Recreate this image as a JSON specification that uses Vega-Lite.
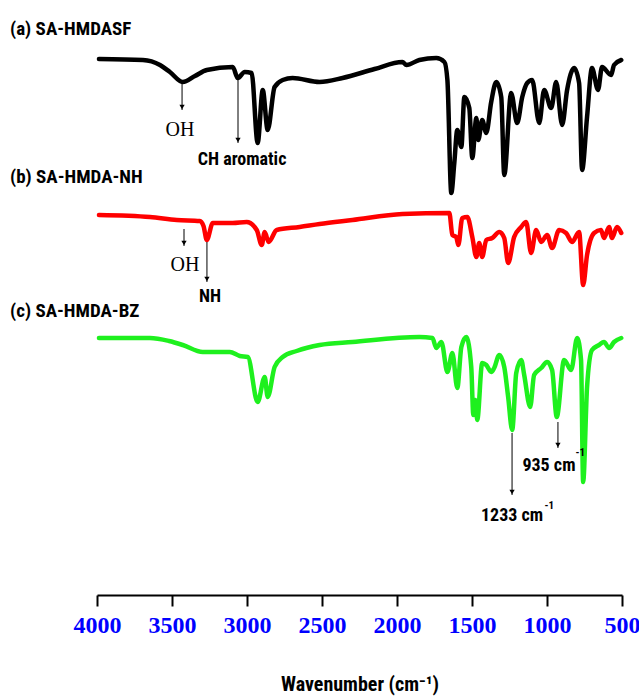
{
  "$schema": "https://vega.github.io/schema/vega-lite/v6.json",
  "width": 525,
  "height": 540,
  "autosize": {"type": "none"},
  "padding": {"left": 97, "top": 55, "right": 17, "bottom": 105},
  "background": "white",
  "config": {"view": {"stroke": null}},
  "datasets": {
    "spectra": [
      {"s": "a", "w": 3987, "v": 539}, {"s": "a", "w": 3694, "v": 538}, {"s": "a", "w": 3580, "v": 533}, {"s": "a", "w": 3514, "v": 526}, {"s": "a", "w": 3428, "v": 516}, {"s": "a", "w": 3347, "v": 522}, {"s": "a", "w": 3268, "v": 528}, {"s": "a", "w": 3095, "v": 531}, {"s": "a", "w": 3062, "v": 520}, {"s": "a", "w": 3015, "v": 526}, {"s": "a", "w": 2969, "v": 525}, {"s": "a", "w": 2929, "v": 455}, {"s": "a", "w": 2895, "v": 508}, {"s": "a", "w": 2862, "v": 468}, {"s": "a", "w": 2816, "v": 511}, {"s": "a", "w": 2762, "v": 518}, {"s": "a", "w": 2696, "v": 520}, {"s": "a", "w": 2516, "v": 516}, {"s": "a", "w": 2363, "v": 520}, {"s": "a", "w": 2150, "v": 529}, {"s": "a", "w": 1964, "v": 536}, {"s": "a", "w": 1937, "v": 533}, {"s": "a", "w": 1851, "v": 538}, {"s": "a", "w": 1738, "v": 540}, {"s": "a", "w": 1684, "v": 536}, {"s": "a", "w": 1664, "v": 518}, {"s": "a", "w": 1638, "v": 405}, {"s": "a", "w": 1618, "v": 435}, {"s": "a", "w": 1598, "v": 468}, {"s": "a", "w": 1571, "v": 451}, {"s": "a", "w": 1551, "v": 501}, {"s": "a", "w": 1518, "v": 490}, {"s": "a", "w": 1498, "v": 440}, {"s": "a", "w": 1471, "v": 480}, {"s": "a", "w": 1458, "v": 458}, {"s": "a", "w": 1432, "v": 478}, {"s": "a", "w": 1405, "v": 465}, {"s": "a", "w": 1372, "v": 496}, {"s": "a", "w": 1338, "v": 516}, {"s": "a", "w": 1305, "v": 501}, {"s": "a", "w": 1285, "v": 423}, {"s": "a", "w": 1239, "v": 505}, {"s": "a", "w": 1199, "v": 475}, {"s": "a", "w": 1165, "v": 501}, {"s": "a", "w": 1132, "v": 515}, {"s": "a", "w": 1099, "v": 518}, {"s": "a", "w": 1052, "v": 475}, {"s": "a", "w": 1019, "v": 508}, {"s": "a", "w": 972, "v": 490}, {"s": "a", "w": 939, "v": 516}, {"s": "a", "w": 899, "v": 473}, {"s": "a", "w": 866, "v": 508}, {"s": "a", "w": 819, "v": 530}, {"s": "a", "w": 786, "v": 515}, {"s": "a", "w": 766, "v": 428}, {"s": "a", "w": 733, "v": 481}, {"s": "a", "w": 700, "v": 530}, {"s": "a", "w": 660, "v": 508}, {"s": "a", "w": 633, "v": 531}, {"s": "a", "w": 573, "v": 523}, {"s": "a", "w": 553, "v": 533}, {"s": "a", "w": 505, "v": 538},

      {"s": "b", "w": 3987, "v": 383}, {"s": "b", "w": 3647, "v": 381}, {"s": "b", "w": 3468, "v": 378}, {"s": "b", "w": 3315, "v": 377}, {"s": "b", "w": 3290, "v": 372}, {"s": "b", "w": 3268, "v": 358}, {"s": "b", "w": 3228, "v": 375}, {"s": "b", "w": 3095, "v": 375}, {"s": "b", "w": 3002, "v": 376}, {"s": "b", "w": 2935, "v": 368}, {"s": "b", "w": 2902, "v": 353}, {"s": "b", "w": 2882, "v": 366}, {"s": "b", "w": 2856, "v": 356}, {"s": "b", "w": 2802, "v": 368}, {"s": "b", "w": 2649, "v": 371}, {"s": "b", "w": 2516, "v": 374}, {"s": "b", "w": 2297, "v": 378}, {"s": "b", "w": 1964, "v": 384}, {"s": "b", "w": 1651, "v": 385}, {"s": "b", "w": 1631, "v": 363}, {"s": "b", "w": 1605, "v": 361}, {"s": "b", "w": 1591, "v": 353}, {"s": "b", "w": 1565, "v": 380}, {"s": "b", "w": 1531, "v": 381}, {"s": "b", "w": 1498, "v": 361}, {"s": "b", "w": 1471, "v": 341}, {"s": "b", "w": 1452, "v": 355}, {"s": "b", "w": 1432, "v": 341}, {"s": "b", "w": 1405, "v": 358}, {"s": "b", "w": 1365, "v": 360}, {"s": "b", "w": 1318, "v": 366}, {"s": "b", "w": 1285, "v": 360}, {"s": "b", "w": 1259, "v": 335}, {"s": "b", "w": 1219, "v": 361}, {"s": "b", "w": 1172, "v": 371}, {"s": "b", "w": 1139, "v": 376}, {"s": "b", "w": 1106, "v": 345}, {"s": "b", "w": 1072, "v": 368}, {"s": "b", "w": 1039, "v": 356}, {"s": "b", "w": 999, "v": 363}, {"s": "b", "w": 966, "v": 350}, {"s": "b", "w": 919, "v": 368}, {"s": "b", "w": 873, "v": 365}, {"s": "b", "w": 833, "v": 356}, {"s": "b", "w": 786, "v": 366}, {"s": "b", "w": 759, "v": 313}, {"s": "b", "w": 733, "v": 343}, {"s": "b", "w": 686, "v": 365}, {"s": "b", "w": 640, "v": 368}, {"s": "b", "w": 620, "v": 360}, {"s": "b", "w": 586, "v": 371}, {"s": "b", "w": 567, "v": 360}, {"s": "b", "w": 533, "v": 371}, {"s": "b", "w": 505, "v": 365},

      {"s": "c", "w": 3987, "v": 260}, {"s": "c", "w": 3647, "v": 260}, {"s": "c", "w": 3520, "v": 257}, {"s": "c", "w": 3428, "v": 253}, {"s": "c", "w": 3295, "v": 246}, {"s": "c", "w": 3115, "v": 246}, {"s": "c", "w": 3048, "v": 242}, {"s": "c", "w": 2995, "v": 241}, {"s": "c", "w": 2929, "v": 196}, {"s": "c", "w": 2882, "v": 221}, {"s": "c", "w": 2862, "v": 201}, {"s": "c", "w": 2816, "v": 231}, {"s": "c", "w": 2762, "v": 241}, {"s": "c", "w": 2669, "v": 247}, {"s": "c", "w": 2516, "v": 253}, {"s": "c", "w": 2297, "v": 256}, {"s": "c", "w": 1851, "v": 261}, {"s": "c", "w": 1764, "v": 260}, {"s": "c", "w": 1738, "v": 250}, {"s": "c", "w": 1704, "v": 256}, {"s": "c", "w": 1664, "v": 226}, {"s": "c", "w": 1631, "v": 245}, {"s": "c", "w": 1598, "v": 210}, {"s": "c", "w": 1571, "v": 251}, {"s": "c", "w": 1538, "v": 261}, {"s": "c", "w": 1505, "v": 231}, {"s": "c", "w": 1491, "v": 183}, {"s": "c", "w": 1478, "v": 198}, {"s": "c", "w": 1465, "v": 178}, {"s": "c", "w": 1432, "v": 235}, {"s": "c", "w": 1405, "v": 233}, {"s": "c", "w": 1372, "v": 226}, {"s": "c", "w": 1352, "v": 230}, {"s": "c", "w": 1318, "v": 243}, {"s": "c", "w": 1285, "v": 231}, {"s": "c", "w": 1259, "v": 201}, {"s": "c", "w": 1232, "v": 168}, {"s": "c", "w": 1205, "v": 225}, {"s": "c", "w": 1172, "v": 238}, {"s": "c", "w": 1152, "v": 223}, {"s": "c", "w": 1112, "v": 191}, {"s": "c", "w": 1086, "v": 223}, {"s": "c", "w": 1039, "v": 230}, {"s": "c", "w": 999, "v": 236}, {"s": "c", "w": 966, "v": 228}, {"s": "c", "w": 935, "v": 181}, {"s": "c", "w": 886, "v": 238}, {"s": "c", "w": 839, "v": 228}, {"s": "c", "w": 799, "v": 260}, {"s": "c", "w": 773, "v": 238}, {"s": "c", "w": 759, "v": 116}, {"s": "c", "w": 733, "v": 211}, {"s": "c", "w": 700, "v": 248}, {"s": "c", "w": 653, "v": 253}, {"s": "c", "w": 620, "v": 256}, {"s": "c", "w": 586, "v": 250}, {"s": "c", "w": 553, "v": 256}, {"s": "c", "w": 505, "v": 260}
    ],
    "arrows": [
      {"w": 3433, "v1": 515, "v2": 488},
      {"w": 3060, "v1": 518, "v2": 455},
      {"w": 3420, "v1": 369, "v2": 352},
      {"w": 3267, "v1": 356, "v2": 316},
      {"w": 1233, "v1": 165, "v2": 103},
      {"w": 927, "v1": 176, "v2": 150}
    ],
    "titles": [
      {"w": 4580, "v": 569, "t": "(a) SA-HMDASF"},
      {"w": 4580, "v": 421, "t": "(b) SA-HMDA-NH"},
      {"w": 4580, "v": 287, "t": "(c) SA-HMDA-BZ"}
    ],
    "serifLabels": [
      {"w": 3447, "v": 468, "t": "OH"},
      {"w": 3413, "v": 333, "t": "OH"}
    ],
    "sansLabels": [
      {"w": 3033, "v": 438, "t": "CH aromatic"},
      {"w": 3247, "v": 301, "t": "NH"},
      {"w": 1233, "v": 82, "t": "1233 cm"},
      {"w": 987, "v": 132, "t": "935 cm"}
    ],
    "sups": [
      {"w": 985, "v": 92, "t": "-1"},
      {"w": 778, "v": 145, "t": "-1"}
    ]
  },
  "layer": [
    {
      "data": {"name": "spectra"},
      "mark": {"type": "line", "strokeWidth": 4.5, "strokeJoin": "round", "strokeCap": "round", "interpolate": "monotone"},
      "encoding": {
        "x": {
          "field": "w", "type": "quantitative",
          "scale": {"domain": [4000, 500], "nice": false, "zero": false},
          "axis": {
            "values": [4000, 3750, 3500, 3250, 3000, 2750, 2500, 2250, 2000, 1750, 1500, 1250, 1000, 750, 500],
            "format": "d",
            "labelExpr": "datum.value % 500 === 0 ? datum.label : ''",
            "grid": false,
            "domainColor": "black", "domainWidth": 2,
            "tickColor": "black", "tickWidth": 2,
            "tickSize": {"condition": {"test": "datum.value % 500 === 0", "value": 11}, "value": 6},
            "labelFont": "Liberation Serif", "labelFontWeight": "bold", "labelFontSize": 24,
            "labelColor": "#0000ff", "labelPadding": 7, "labelFlush": false,
            "title": "Wavenumber (cm⁻¹)",
            "titleFont": "Liberation Sans Narrow, Roboto Condensed, Liberation Sans", "titleFontSize": 20, "titleFontWeight": "bold",
            "titleColor": "black", "titlePadding": 37
          }
        },
        "y": {"field": "v", "type": "quantitative", "scale": {"domain": [3, 543], "nice": false, "zero": false}, "axis": null},
        "color": {"field": "s", "type": "nominal", "scale": {"domain": ["a", "b", "c"], "range": ["#000000", "#ff0000", "#1ef01e"]}, "legend": null}
      }
    },
    {
      "data": {"name": "arrows"},
      "mark": {"type": "rule", "color": "black", "strokeWidth": 1},
      "encoding": {
        "x": {"field": "w", "type": "quantitative"},
        "y": {"field": "v1", "type": "quantitative"},
        "y2": {"field": "v2"}
      }
    },
    {
      "data": {"name": "arrows"},
      "mark": {"type": "point", "shape": "triangle-down", "filled": true, "color": "black", "size": 28, "opacity": 1, "yOffset": -3},
      "encoding": {
        "x": {"field": "w", "type": "quantitative"},
        "y": {"field": "v2", "type": "quantitative"}
      }
    },
    {
      "data": {"name": "titles"},
      "mark": {"type": "text", "align": "left", "baseline": "middle", "font": "Liberation Sans Narrow, Roboto Condensed, Liberation Sans", "fontWeight": "bold", "fontSize": 19, "color": "black"},
      "encoding": {
        "x": {"field": "w", "type": "quantitative"},
        "y": {"field": "v", "type": "quantitative"},
        "text": {"field": "t"}
      }
    },
    {
      "data": {"name": "serifLabels"},
      "mark": {"type": "text", "align": "center", "baseline": "middle", "font": "Liberation Serif", "fontSize": 20, "color": "black"},
      "encoding": {
        "x": {"field": "w", "type": "quantitative"},
        "y": {"field": "v", "type": "quantitative"},
        "text": {"field": "t"}
      }
    },
    {
      "data": {"name": "sansLabels"},
      "mark": {"type": "text", "align": "center", "baseline": "middle", "font": "Liberation Sans Narrow, Roboto Condensed, Liberation Sans", "fontWeight": "bold", "fontSize": 18, "color": "black"},
      "encoding": {
        "x": {"field": "w", "type": "quantitative"},
        "y": {"field": "v", "type": "quantitative"},
        "text": {"field": "t"}
      }
    },
    {
      "data": {"name": "sups"},
      "mark": {"type": "text", "align": "center", "baseline": "middle", "font": "Liberation Sans Narrow, Roboto Condensed, Liberation Sans", "fontWeight": "bold", "fontSize": 11, "color": "black"},
      "encoding": {
        "x": {"field": "w", "type": "quantitative"},
        "y": {"field": "v", "type": "quantitative"},
        "text": {"field": "t"}
      }
    }
  ]
}
